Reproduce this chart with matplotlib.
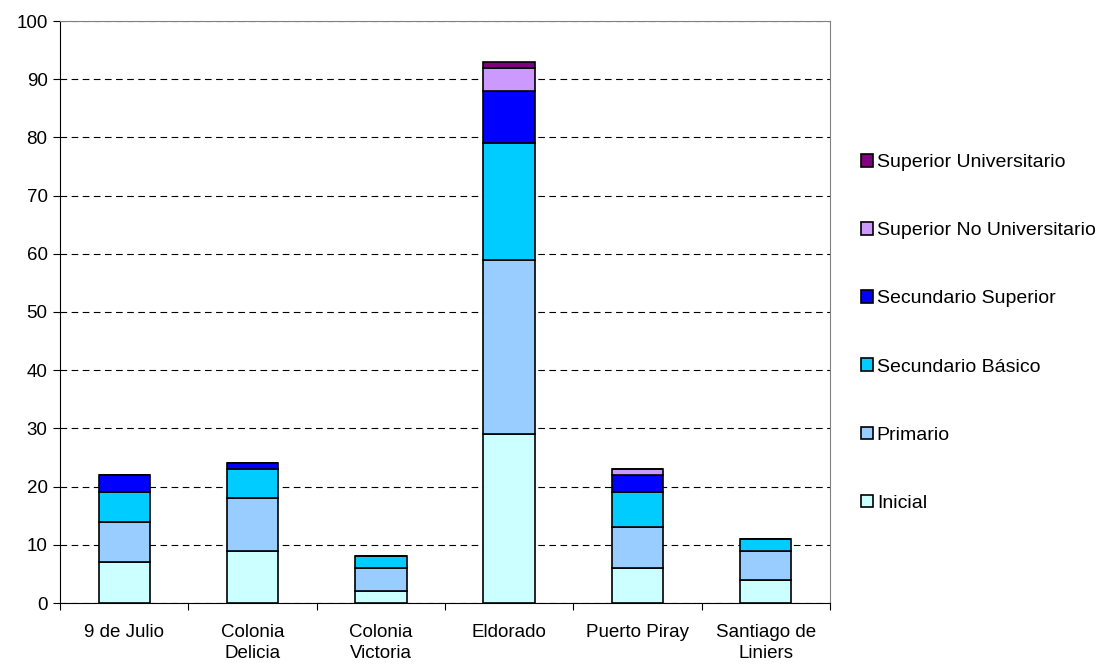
import numpy as np
import matplotlib
matplotlib.use("Agg")
import matplotlib.pyplot as plt

plt.rcParams['font.family'] = ['Liberation Sans', 'DejaVu Sans']

# Data
localidades = ['9 de Julio', 'Colonia\nDelicia', 'Colonia\nVictoria', 'Eldorado',
               'Puerto Piray', 'Santiago de\nLiniers']
niveles = ['Inicial', 'Primario', 'Secundario Básico', 'Secundario Superior',
           'Superior No Universitario', 'Superior Universitario']
inicial = [7, 9, 2, 29, 6, 4]
primario = [7, 9, 4, 30, 7, 5]
sec_basico = [5, 5, 2, 20, 6, 2]
sec_superior = [3, 1, 0, 9, 3, 0]
sup_no_univ = [0, 0, 0, 4, 1, 0]
sup_univ = [0, 0, 0, 1, 0, 0]
series = [inicial, primario, sec_basico, sec_superior, sup_no_univ, sup_univ]
colores = ['#CCFFFF', '#99CCFF', '#00CCFF', '#0000FF', '#CC99FF', '#800080']

fig = plt.figure(figsize=(11.02, 6.65), dpi=100)
ax = fig.add_axes([60 / 1102, 62 / 665, 770 / 1102, 582 / 665])

x = np.arange(len(localidades))
bottom = np.zeros(len(localidades))
handles = []
for vals, col, name in zip(series, colores, niveles):
    vals = np.array(vals, dtype=float)
    b = ax.bar(x, vals, width=0.4, bottom=bottom, color=col, edgecolor='black',
               linewidth=1.2, label=name, zorder=3)
    handles.append(b)
    bottom += vals

ax.set_xlim(-0.5, len(localidades) - 0.5)
ax.set_ylim(0, 100)
ax.set_yticks(np.arange(0, 101, 10))
ax.yaxis.grid(True, linestyle=(0, (6, 4)), color='black', linewidth=0.8, zorder=0)
ax.set_axisbelow(True)

# category labels between boundary ticks
ax.set_xticks(np.arange(-0.5, len(localidades)), minor=False)
ax.set_xticklabels([])
ax.set_xticks(x, minor=True)
ax.set_xticklabels(localidades, minor=True, fontsize=13.5, linespacing=1.3)
ax.tick_params(axis='x', which='minor', length=0, pad=15)
ax.tick_params(axis='x', which='major', length=5, color='black')
ax.tick_params(axis='y', length=5, color='black', labelsize=13.5, pad=4)

for s in ('top', 'right'):
    ax.spines[s].set_color('#808080')
for s in ('left', 'bottom'):
    ax.spines[s].set_color('black')

leg = ax.legend(handles[::-1], niveles[::-1], loc='center left',
                bbox_to_anchor=(1.03, 0.464), frameon=False, fontsize=14,
                handlelength=0.62, handleheight=0.62, handletextpad=0.2,
                labelspacing=2.62, borderaxespad=0)

fig.savefig('out.png', dpi=100)
